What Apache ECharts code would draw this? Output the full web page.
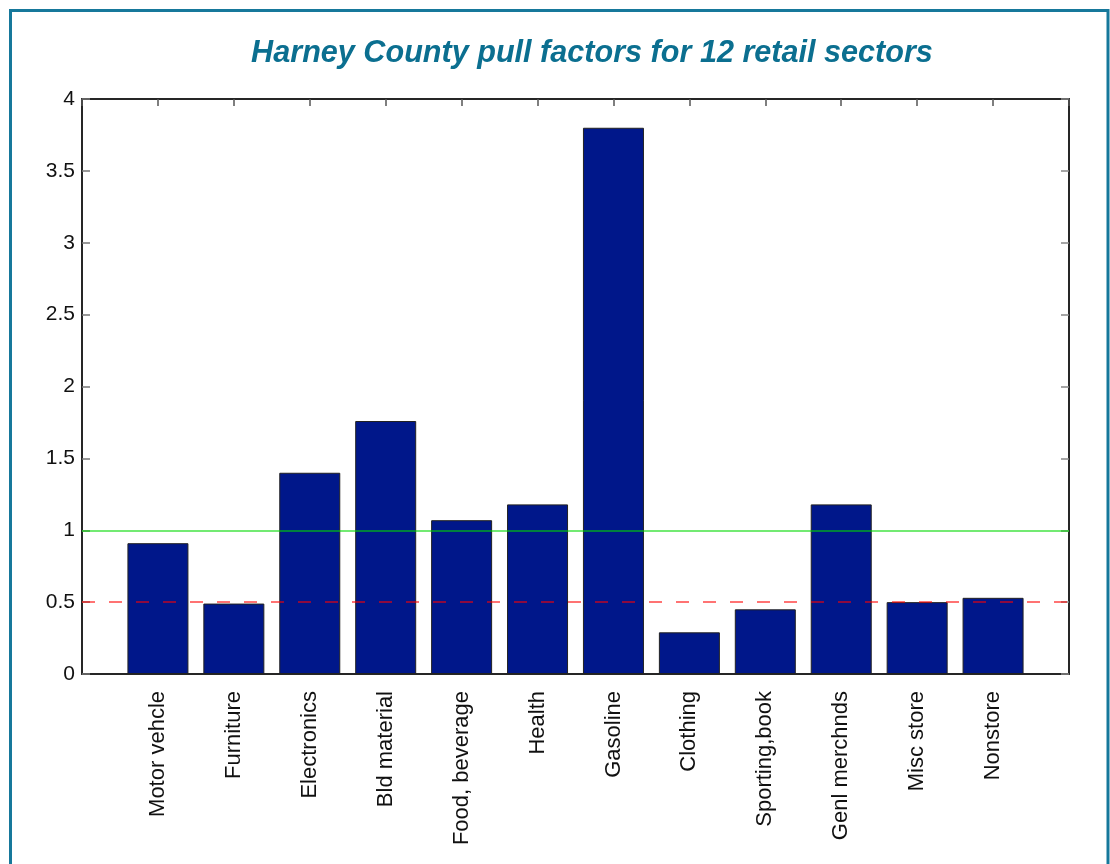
<!DOCTYPE html>
<html>
<head>
<meta charset="utf-8">
<title>Harney County pull factors</title>
<script src="https://cdn.jsdelivr.net/npm/echarts@6/dist/echarts.min.js"></script>
<style>
  html, body { margin: 0; padding: 0; background: #fff; }
  #chart { width: 1110px; height: 864px; }
</style>
</head>
<body>
<div id="chart"></div>
<script>
var sectors = ['Motor vehcle', 'Furniture', 'Electronics', 'Bld material', 'Food, beverage', 'Health',
    'Gasoline', 'Clothing', 'Sporting,book', 'Genl merchnds', 'Misc store', 'Nonstore'];
var pullFactors = [0.91, 0.49, 1.40, 1.76, 1.07, 1.18, 3.80, 0.29, 0.45, 1.18, 0.50, 0.53];
var yTicks = [0, 0.5, 1, 1.5, 2, 2.5, 3, 3.5, 4];
var fullLine = 1;   // green reference line
var halfLine = 0.5; // red dashed reference line

var chart = echarts.init(document.getElementById('chart'));

// bars sit at x = 1..12 on a 0..13 value axis (matlab style)
var barData = [];
for (var i = 0; i < pullFactors.length; i++) {
    barData.push([i + 1, pullFactors[i]]);
}

var fontFamily = 'Liberation Sans, Arial, sans-serif';
var axisColor = '#262626';

var option = {
    backgroundColor : '#fff',
    animation : false,
    title : {
        text : 'Harney County pull factors for 12 retail sectors',
        left : 587,
        textAlign : 'center',
        top : 33,
        textStyle : {
            fontFamily : 'Liberation Sans Narrow, Liberation Sans, Arial, sans-serif',
            fontStyle : 'italic',
            fontWeight : 'bold',
            fontSize : 30.6,
            color : '#0b6f90'
        }
    },
    graphic : [ {
        type : 'rect',
        shape : { x : 10.5, y : 10.5, width : 1097.5, height : 900 },
        style : { fill : 'none', stroke : '#16789b', lineWidth : 3 },
        silent : true
    } ],
    grid : {
        left : 82,
        right : 41,
        top : 99,
        bottom : 190
    },
    xAxis : [ {
        type : 'value',
        min : 0,
        max : 13,
        interval : 1,
        splitLine : { show : false },
        axisLine : { onZero : false, lineStyle : { color : axisColor, width : 2 } },
        axisTick : { show : false },
        axisLabel : {
            rotate : 90,
            margin : 17,
            fontFamily : fontFamily,
            fontSize : 22,
            color : '#111',
            formatter : function(value) {
                return sectors[value - 1] || '';
            }
        }
    }, {
        type : 'value',
        position : 'top',
        min : 0,
        max : 13,
        interval : 1,
        splitLine : { show : false },
        axisLine : { show : true, onZero : false, lineStyle : { color : axisColor, width : 2 } },
        axisTick : { inside : true, length : 7, lineStyle : { color : '#555', width : 1.5 } },
        axisLabel : { show : false }
    } ],
    yAxis : [ {
        type : 'value',
        min : yTicks[0],
        max : yTicks[yTicks.length - 1],
        interval : 0.5,
        splitLine : { show : false },
        axisLine : { show : true, onZero : false, lineStyle : { color : axisColor, width : 2 } },
        axisTick : { inside : true, length : 8, lineStyle : { color : '#777', width : 1.5 } },
        axisLabel : {
            margin : 7,
            fontFamily : fontFamily,
            fontSize : 21,
            color : '#111'
        }
    }, {
        type : 'value',
        position : 'right',
        min : yTicks[0],
        max : yTicks[yTicks.length - 1],
        interval : 0.5,
        splitLine : { show : false },
        axisLine : { show : true, onZero : false, lineStyle : { color : axisColor, width : 2 } },
        axisTick : { inside : true, length : 8, lineStyle : { color : '#888', width : 1.5 } },
        axisLabel : { show : false }
    } ],
    series : [ {
        name : 'Pull factor',
        type : 'bar',
        xAxisIndex : 0,
        yAxisIndex : 0,
        barWidth : 61,
        itemStyle : {
            color : '#00178a',
            borderColor : '#222',
            borderWidth : 1
        },
        data : barData,
        markLine : {
            silent : true,
            symbol : 'none',
            label : { show : false },
            z : 10,
            data : [ {
                yAxis : fullLine,
                lineStyle : { color : '#00d800', opacity : 0.55, width : 2, type : 'solid' }
            }, {
                yAxis : halfLine,
                lineStyle : { color : '#ff0000', opacity : 0.55, width : 2, type : [ 13, 14 ] }
            } ]
        }
    } ]
};

chart.setOption(option);
</script>
</body>
</html>
